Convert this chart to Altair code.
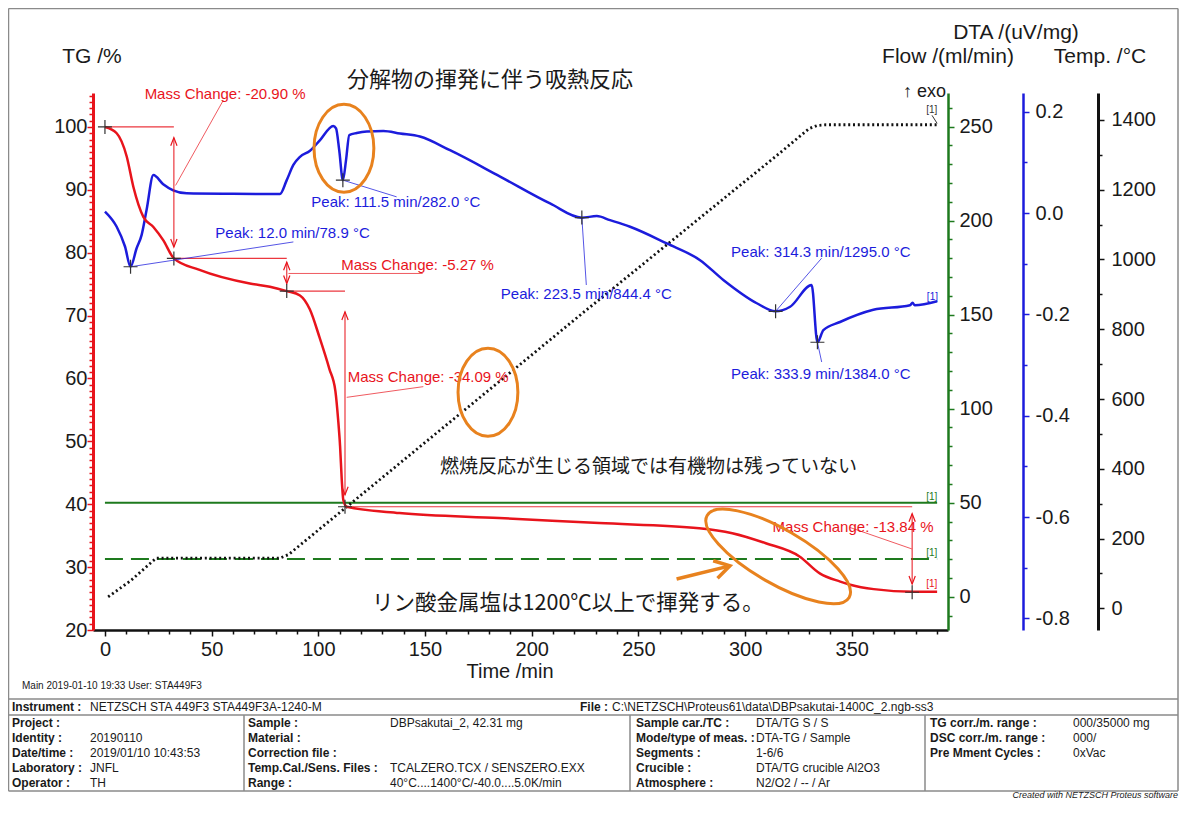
import altair as alt
import pandas as pd

SANS = "Liberation Sans"
CJK = "Noto Sans CJK JP"
RED = "#e8141c"
BLUE = "#1c1cdc"
GREEN = "#1e7a1e"
BLACK = "#111111"
ORANGE = "#e8821e"
TXT = "#1a1a1a"

# ---------------- data ----------------
tg_time = [0, 5.5, 10.2, 13.3, 18, 22.7, 27.3, 32.3, 44, 67.9, 77.3, 85.2, 91.4, 96, 100.6, 105.2,
           108, 109.3, 110.2, 111, 111.7, 113.3, 138, 184.7, 231.6, 278.5, 294, 309.7, 325.5, 335,
           344.6, 349.3, 360.3, 379, 390]
tg_pct = [100, 99, 95.3, 90.5, 85.7, 84.1, 82, 79.1, 77.3, 75.1, 74.6, 73.9, 73.2, 71.0, 66.5, 61.5,
          58.0, 53.4, 49.2, 43.8, 40.7, 39.6, 38.6, 37.8, 37.0, 36.2, 35.4, 33.8, 31.7, 29.0,
          27.7, 27.2, 26.5, 26.1, 26.1]

dta_time = [0, 5.5, 9.4, 12.0, 14.8, 17.2, 19.5, 22.7, 27.3, 32, 38.3, 60, 82, 85.2, 88.3, 91.4,
            96.1, 100.8, 107, 108.3, 109.8, 111.5, 113, 114.5, 118, 122.7, 130.5, 138.3, 147.6,
            161.7, 185.2, 208.6, 223.5, 230.5, 236.7, 246.1, 263.3, 278.9, 289.8, 305.5, 314.3,
            321.1, 331.2, 333.9, 336.7, 344.5, 360.1, 377.3, 378.5, 379.5, 390]
dta_val = [0.003, -0.027, -0.066, -0.106, -0.070, -0.043, 0.006, 0.075, 0.057, 0.045, 0.039, 0.038,
           0.0375, 0.065, 0.095, 0.111, 0.123, 0.144, 0.172, 0.167, 0.124, 0.065, 0.105, 0.154,
           0.158, 0.161, 0.162, 0.157, 0.151, 0.124, 0.072, 0.019, -0.009, -0.006, -0.014, -0.027,
           -0.060, -0.093, -0.132, -0.178, -0.194, -0.185, -0.142, -0.255, -0.231, -0.215, -0.191,
           -0.182, -0.177, -0.182, -0.174]

temp_time = [1.5, 12, 24, 82, 86, 111.5, 223.5, 314.3, 330, 333.9, 338, 390]
temp_c = [33, 79, 144, 144, 154, 282, 844.4, 1295, 1375, 1384, 1386, 1386]

flow_time = [0, 390]
flow_main = [50, 50]
flow_aux = [20, 20]

# peaks (DTA)
peak_time = [12.0, 111.5, 223.5, 314.3, 333.9]
peak_dta = [-0.106, 0.065, -0.009, -0.194, -0.255]
peak_temp = [78.9, 282.0, 844.4, 1295.0, 1384.0]
peak_lbl_time = [87.9, 136.3, 225.6, 335.5, 335.5]
peak_lbl_dta = [-0.040, 0.022, -0.159, -0.076, -0.318]
peak_ptr_time = [88.3, 136.7, 225.6, 335.9, 335.9]
peak_ptr_dta = [-0.057, 0.032, -0.142, -0.089, -0.294]

# mass changes (TG)
mc_value = [-20.90, -5.27, -34.09, -13.84]
mc_time = [32.3, 85.2, 112.5, 378.3]
mc_top = [98.3, 78.5, 70.6, 38.5]
mc_bot = [80.9, 75.1, 41.5, 27.3]
mc_lbl_time = [56.3, 146.5, 151.5, 350.6]
mc_lbl_tg = [105.2, 78.1, 60.2, 36.4]
mc_ptr_t0 = [33.1, 86.0, 113.3, 378.1]
mc_ptr_v0 = [90.7, 76.7, 57.0, 32.9]
mc_ptr_t1 = [55.4, 148.9, 149.2, 349.2]
mc_ptr_v1 = [104.2, 76.7, 58.7, 36.3]
ref_t0 = [0, 32.3, 85.2, 112.5]
ref_t1 = [32.3, 85.2, 112.5, 378.3]
ref_tg = [100, 79.1, 73.9, 39.6]
cross_time = [0, 32.3, 85.2, 112.5, 378.3]
cross_tg = [100, 79.1, 73.9, 39.6, 26.0]

# free annotations
notes_jp = ["分解物の揮発に伴う吸熱反応", "燃焼反応が生じる領域では有機物は残っていない",
            "リン酸金属塩は1200℃以上で揮発する。"]
notes_time = [113.4, 157, 125.2]
notes_tg = [107.4, 46.0, 24.2]
ell_time = [112.0, 179.5]
ell_tg = [96.6, 57.8]
ell3_time = [315.5]
ell3_tg = [31.7]
arrow_t = [267.9]
arrow_t2 = [292.9]
arrow_v = [28.1]
arrow_v2 = [30.2]

# axis ticks
x_ticks = list(range(0, 391, 10))
tg_ticks = list(range(20, 106))
flow_ticks = list(range(-10, 261, 10))
dta_ticks = [-0.8, -0.7, -0.6, -0.5, -0.4, -0.3, -0.2, -0.1, 0.0, 0.1, 0.2]
temp_ticks = list(range(0, 1401, 100))

# info table
tbl_inst = ["Instrument :", "NETZSCH STA 449F3 STA449F3A-1240-M", "File :",
            "C:\\NETZSCH\\Proteus61\\data\\DBPsakutai-1400C_2.ngb-ss3"]
tbl_labels = [
    ["Project :", "Identity :", "Date/time :", "Laboratory :", "Operator :"],
    ["Sample :", "Material :", "Correction file :", "Temp.Cal./Sens. Files :", "Range :"],
    ["Sample car./TC :", "Mode/type of meas. :", "Segments :", "Crucible :", "Atmosphere :"],
    ["TG corr./m. range :", "DSC corr./m. range :", "Pre Mment Cycles :", "", ""],
]
tbl_values = [
    ["", "20190110", "2019/01/10 10:43:53", "JNFL", "TH"],
    ["DBPsakutai_2, 42.31 mg", "", "", "TCALZERO.TCX / SENSZERO.EXX", "40°C....1400°C/-40.0....5.0K/min"],
    ["DTA/TG S / S", "DTA-TG / Sample", "1-6/6", "DTA/TG crucible Al2O3", "N2/O2 / -- / Ar"],
    ["000/35000 mg", "000/", "0xVac", "", ""],
]

# ---------------- layout ----------------
W, H = 855, 537
OX, OY = 93, 93  # page position of plot origin
X_DOM = [-5.6, 395.1]
TG_DOM = [20, 105.4]
FL_DOM = [-17.7, 267.9]
DTA_DOM = [-0.823, 0.237]
T_DOM = [-62, 1477]


def mk_axis(orient, color, values, label_expr, major_test, offset=0, pad=4, fmt="d", dw=2.5):
    return alt.Axis(
        orient=orient, offset=offset, values=values, format=fmt, labelExpr=label_expr,
        grid=False, title=None, domainColor=color, domainWidth=dw, tickColor=color,
        tickWidth=1.5, tickSize={"condition": {"test": major_test, "value": 6}, "value": 4},
        labelFont=SANS, labelFontSize=20, labelColor=TXT, labelPadding=pad,
        labelOverlap=False, labelFlush=False,
    )


X_AXIS = mk_axis("bottom", BLACK, x_ticks, "datum.value % 50 === 0 ? datum.label : ''",
                 "datum.value % 50 === 0", pad=3)
TG_AXIS = mk_axis("left", RED, tg_ticks, "datum.value % 10 === 0 ? datum.label : ''",
                  "datum.value % 10 === 0", pad=0, dw=3)
FL_AXIS = mk_axis("right", GREEN, flow_ticks, "datum.value % 50 === 0 ? datum.label : ''",
                  "datum.value % 50 === 0", pad=5)
DTA_AXIS = mk_axis("right", BLUE, dta_ticks,
                   "abs(round(datum.value*10)) % 2 === 0 ? (datum.value < -0.001 ? '-' : '') + format(abs(datum.value), '.1f') : ''",
                   "abs(round(datum.value*10)) % 2 === 0", offset=75, pad=6, fmt=".1f")
T_AXIS = mk_axis("right", BLACK, temp_ticks, "datum.value % 200 === 0 ? datum.label : ''",
                 "datum.value % 200 === 0", offset=150, pad=7, dw=3)


def xq(field):
    # every layer carries the same x axis so that the shared axis merges into one
    return alt.X(field, type="quantitative",
                 scale=alt.Scale(domain=X_DOM, nice=False, zero=False), axis=X_AXIS)


def yq(field, dom, axis=None):
    return alt.Y(field, type="quantitative",
                 scale=alt.Scale(domain=dom, nice=False, zero=False), axis=axis)


# ---------------- data frames ----------------
tg_df = pd.DataFrame({"t": tg_time, "v": tg_pct})
dta_df = pd.DataFrame({"t": dta_time, "v": dta_val})
temp_df = pd.DataFrame({"t": temp_time, "v": temp_c})
flow_df = pd.DataFrame({"t": flow_time, "main": flow_main, "aux": flow_aux})

peak_df = pd.DataFrame({
    "t": peak_time, "v": peak_dta, "lt": peak_lbl_time, "lv": peak_lbl_dta,
    "pt": peak_ptr_time, "pv": peak_ptr_dta,
    "text": [f"Peak: {a:.1f} min/{b:.1f} °C" for a, b in zip(peak_time, peak_temp)],
})
mc_df = pd.DataFrame({
    "t": mc_time, "top": mc_top, "bot": mc_bot, "lt": mc_lbl_time, "lv": mc_lbl_tg,
    "p0t": mc_ptr_t0, "p0v": mc_ptr_v0, "p1t": mc_ptr_t1, "p1v": mc_ptr_v1,
    "text": [f"Mass Change: {v:.2f} %" for v in mc_value],
})
ref_df = pd.DataFrame({"t0": ref_t0, "t1": ref_t1, "v": ref_tg})
cross_df = pd.DataFrame({"t": cross_time, "v": cross_tg})
notes_df = pd.DataFrame({"t": notes_time, "v": notes_tg, "text": notes_jp})
ell_df = pd.DataFrame({"t": ell_time, "v": ell_tg})
ell3_df = pd.DataFrame({"t": ell3_time, "v": ell3_tg})
arrow_df = pd.DataFrame({"t": arrow_t, "t2": arrow_t2, "v": arrow_v, "v2": arrow_v2})

CROSS = "M -1 0 L 1 0 M 0 -1 L 0 1"
UP = "M -0.35 0.9 L 0 0 L 0.35 0.9"
DOWN = "M -0.35 -0.9 L 0 0 L 0.35 -0.9"
ELL_V = "M -0.68 0 A 0.68 1 0 1 0 0.68 0 A 0.68 1 0 1 0 -0.68 0"
ELL_H = "M -1 0 A 1 0.33 0 1 0 1 0 A 1 0.33 0 1 0 -1 0"
CHEV = "M -1 -0.6 L 0 0 L -1 0.6"

layers = []
# green flow lines
layers.append(alt.Chart(flow_df).mark_line(color=GREEN, strokeWidth=2).encode(
    x=xq("t"), y=yq("main", FL_DOM, FL_AXIS)))
layers.append(alt.Chart(flow_df).mark_line(color=GREEN, strokeWidth=2, strokeDash=[18, 8]).encode(
    x=xq("t"), y=yq("aux", FL_DOM)))
# temperature (dotted)
layers.append(alt.Chart(temp_df).mark_line(color=BLACK, strokeWidth=2.8, strokeDash=[2, 2.8]).encode(
    x=xq("t"), y=yq("v", T_DOM, T_AXIS)))
# DTA
layers.append(alt.Chart(dta_df).mark_line(color=BLUE, strokeWidth=2.5, interpolate="monotone").encode(
    x=xq("t"), y=yq("v", DTA_DOM, DTA_AXIS)))

# red mass-change helpers
layers.append(alt.Chart(ref_df).mark_rule(color=RED, strokeWidth=1.2, opacity=0.85).encode(
    x=xq("t0"), x2="t1", y=yq("v", TG_DOM)))
layers.append(alt.Chart(mc_df).mark_rule(color=RED, strokeWidth=1.2, opacity=0.85).encode(
    x=xq("t"), y=yq("top", TG_DOM), y2="bot"))
layers.append(alt.Chart(mc_df).mark_rule(color=RED, strokeWidth=1, opacity=0.7).encode(
    x=xq("p0t"), x2="p1t", y=yq("p0v", TG_DOM), y2="p1v"))
layers.append(alt.Chart(mc_df).mark_point(shape=UP, size=324, filled=False, color=RED,
                                          strokeWidth=1.2, opacity=1).encode(
    x=xq("t"), y=yq("top", TG_DOM)))
layers.append(alt.Chart(mc_df).mark_point(shape=DOWN, size=324, filled=False, color=RED,
                                          strokeWidth=1.2, opacity=1).encode(
    x=xq("t"), y=yq("bot", TG_DOM)))
layers.append(alt.Chart(mc_df).mark_text(font=SANS, fontSize=15, color=RED, align="center",
                                         baseline="middle").encode(
    x=xq("lt"), y=yq("lv", TG_DOM), text="text:N"))

# TG curve (carries the TG axis)
layers.append(alt.Chart(tg_df).mark_line(color=RED, strokeWidth=2.5, interpolate="monotone").encode(
    x=xq("t"), y=yq("v", TG_DOM, TG_AXIS)))
layers.append(alt.Chart(cross_df).mark_point(shape=CROSS, size=196, filled=False, color="#333333",
                                             strokeWidth=1.2, opacity=1).encode(
    x=xq("t"), y=yq("v", TG_DOM)))

# DTA peak annotations
layers.append(alt.Chart(peak_df).mark_rule(color=BLUE, strokeWidth=1, opacity=0.75).encode(
    x=xq("t"), x2="pt", y=yq("v", DTA_DOM), y2="pv"))
layers.append(alt.Chart(peak_df).mark_point(shape=CROSS, size=196, filled=False, color="#333333",
                                            strokeWidth=1.2, opacity=1).encode(
    x=xq("t"), y=yq("v", DTA_DOM)))
layers.append(alt.Chart(peak_df).mark_text(font=SANS, fontSize=15, color=BLUE, align="center",
                                           baseline="middle").encode(
    x=xq("lt"), y=yq("lv", DTA_DOM), text="text:N"))

# "[1]" end labels
layers.append(alt.Chart(pd.DataFrame({"t": [387.8], "v": [-0.165]})).mark_text(
    font=SANS, fontSize=10, color=BLUE).encode(x=xq("t"), y=yq("v", DTA_DOM), text=alt.value("[1]")))
layers.append(alt.Chart(pd.DataFrame({"t": [387.5, 387.5], "v": [53.2, 23.1]})).mark_text(
    font=SANS, fontSize=10, color=GREEN).encode(x=xq("t"), y=yq("v", FL_DOM), text=alt.value("[1]")))
layers.append(alt.Chart(pd.DataFrame({"t": [387.5], "v": [27.3]})).mark_text(
    font=SANS, fontSize=10, color=RED).encode(x=xq("t"), y=yq("v", TG_DOM), text=alt.value("[1]")))
layers.append(alt.Chart(pd.DataFrame({"t": [387.5], "v": [1429]})).mark_text(
    font=SANS, fontSize=10, color="#333333").encode(x=xq("t"), y=yq("v", T_DOM), text=alt.value("[1]")))
layers.append(alt.Chart(pd.DataFrame({"t": [387.6], "t2": [390], "v": [1413], "v2": [1390]})).mark_rule(
    color="#333333", strokeWidth=1).encode(x=xq("t"), x2="t2", y=yq("v", T_DOM), y2="v2"))

# orange highlights
layers.append(alt.Chart(ell_df).mark_point(shape=ELL_V, size=7744, filled=False, color=ORANGE,
                                           strokeWidth=3, opacity=1).encode(
    x=xq("t"), y=yq("v", TG_DOM)))
layers.append(alt.Chart(ell3_df).mark_point(shape=ELL_H, size=26896, filled=False, color=ORANGE,
                                            strokeWidth=3, opacity=1, angle=30).encode(
    x=xq("t"), y=yq("v", TG_DOM)))
layers.append(alt.Chart(arrow_df).mark_rule(color=ORANGE, strokeWidth=3.5).encode(
    x=xq("t"), x2="t2", y=yq("v", TG_DOM), y2="v2"))
layers.append(alt.Chart(arrow_df).mark_point(shape=CHEV, size=900, filled=False, color=ORANGE,
                                             strokeWidth=3.5, opacity=1, angle=346).encode(
    x=xq("t2"), y=yq("v2", TG_DOM)))

# Japanese notes
for i, fs in enumerate([22, 19, 21.5]):
    layers.append(alt.Chart(notes_df.iloc[[i]]).mark_text(
        font=CJK, fontSize=fs, color=TXT, align="left", baseline="middle").encode(
        x=xq("t"), y=yq("v", TG_DOM), text="text:N"))


# ---------------- pixel-placed text (titles, footer, table) ----------------
def px_text(rows, **style):
    df = pd.DataFrame(rows, columns=["px", "py", "text"])
    df["px"] = df["px"] - OX
    df["py"] = df["py"] - OY
    return alt.Chart(df).mark_text(**style).encode(
        x=alt.X("px:Q", scale=None, axis=None), y=alt.Y("py:Q", scale=None, axis=None),
        text="text:N")


layers.append(px_text([(92, 57, "TG /%"), (1016, 33, "DTA /(uV/mg)"),
                       (948, 57, "Flow /(ml/min)"), (1100, 57, "Temp. /°C")],
                      font=SANS, fontSize=21, color=TXT, align="center", baseline="middle"))
layers.append(px_text([(946, 92, "↑ exo")], font=SANS, fontSize=18, color=TXT,
                      align="right", baseline="middle"))
layers.append(px_text([(510, 672, "Time /min")], font=SANS, fontSize=20, color=TXT,
                      align="center", baseline="middle"))
layers.append(px_text([(22, 686, "Main   2019-01-10 19:33   User: STA449F3")], font=SANS,
                      fontSize=10, color=TXT, align="left", baseline="middle"))

# table geometry
T_LEFT, T_RIGHT, T_TOP = 8.5, 1178, 8.5
LINE_A, INST_Y, LINE_B, LINE_C = 699, 707, 715, 791
ROW_Y = [723, 738, 753, 768, 783]
COL_X = [(12, 90), (248, 390), (636, 756), (930, 1073)]
SEP_X = [244, 630, 925]

rules = [(T_LEFT, T_TOP, T_RIGHT, T_TOP), (T_LEFT, T_TOP, T_LEFT, LINE_C),
         (T_RIGHT, T_TOP, T_RIGHT, LINE_C), (T_LEFT, LINE_A, T_RIGHT, LINE_A),
         (T_LEFT, LINE_B, T_RIGHT, LINE_B), (T_LEFT, LINE_C, T_RIGHT, LINE_C)]
rules += [(sx, LINE_B, sx, LINE_C) for sx in SEP_X]
rule_df = pd.DataFrame(rules, columns=["x1", "y1", "x2", "y2"])
rule_df[["x1", "x2"]] -= OX
rule_df[["y1", "y2"]] -= OY
layers.append(alt.Chart(rule_df).mark_rule(color="#8a8a8a", strokeWidth=1.5).encode(
    x=alt.X("x1:Q", scale=None, axis=None), x2="x2:Q",
    y=alt.Y("y1:Q", scale=None, axis=None), y2="y2:Q"))

bold_rows = [(12, INST_Y, tbl_inst[0]), (580, INST_Y, tbl_inst[2])]
reg_rows = [(90, INST_Y, tbl_inst[1]), (612, INST_Y, tbl_inst[3])]
for j, (lx, vx) in enumerate(COL_X):
    for i, ry in enumerate(ROW_Y):
        if tbl_labels[j][i]:
            bold_rows.append((lx, ry, tbl_labels[j][i]))
        if tbl_values[j][i]:
            reg_rows.append((vx, ry, tbl_values[j][i]))
layers.append(px_text(bold_rows, font=SANS, fontSize=12, fontWeight="bold", color=TXT,
                      align="left", baseline="middle"))
layers.append(px_text(reg_rows, font=SANS, fontSize=12, color=TXT, align="left",
                      baseline="middle"))
layers.append(px_text([(1178, 797.5, "Created with NETZSCH Proteus software")], font=SANS,
                      fontSize=9, fontStyle="italic", color=TXT, align="right",
                      baseline="alphabetic"))

chart = alt.layer(*layers).resolve_scale(y="independent").properties(
    width=W, height=H,
    autosize=alt.AutoSizeParams(type="none"),
    padding={"left": 85, "top": 85, "right": 231, "bottom": 168},
    background="white",
).configure_view(strokeWidth=0)

chart.save("out.html", embed_options={"renderer": "svg", "actions": False})
